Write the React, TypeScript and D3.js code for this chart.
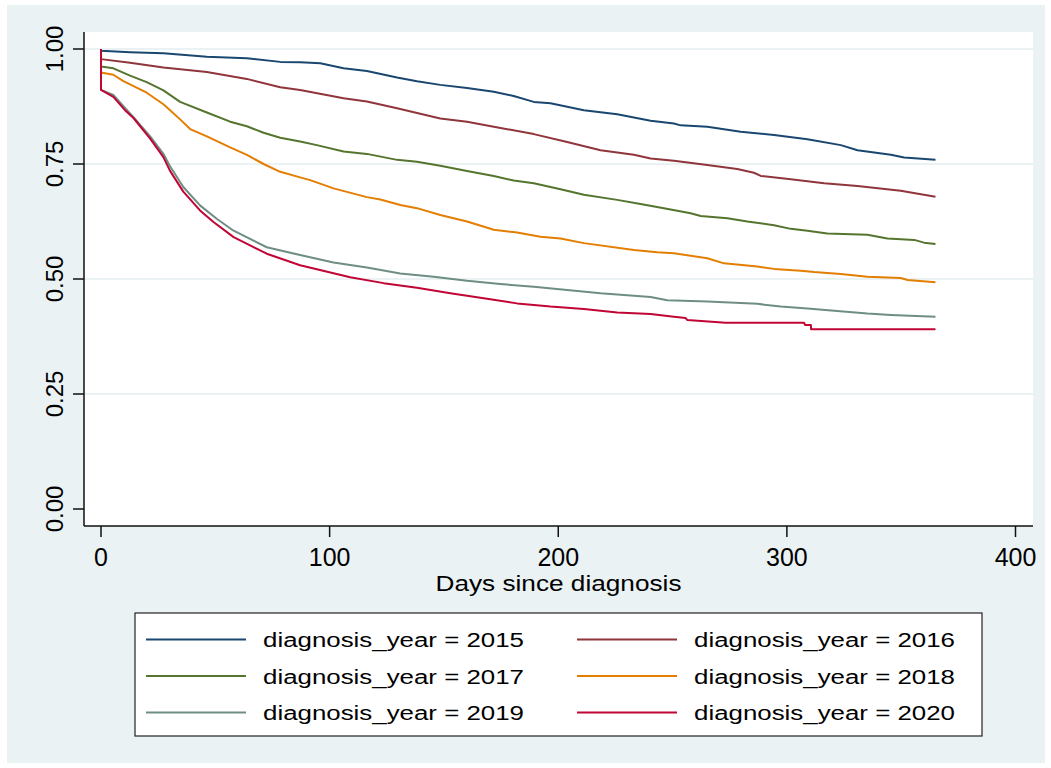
import React from "react";
import * as d3 from "d3";

type Pt = [number, number];

const years = ["2015", "2016", "2017", "2018", "2019", "2020"];
const colors = ["#1A476F", "#90353B", "#55752F", "#E37E00", "#6E8E84", "#C10534"];

const s2015: Pt[] = [[0,1],[0,0.996],[12.7,0.993],[27.3,0.991],[46.3,0.983],[63.8,0.98],[78.4,0.972],[87.1,0.971],[95.9,0.969],[106.1,0.958],[116.3,0.952],[129.5,0.938],[138.2,0.93],[148.4,0.922],[160.1,0.915],[171.8,0.907],[180.5,0.898],[189.3,0.885],[196.6,0.882],[211.2,0.867],[225.8,0.858],[240.4,0.844],[250.6,0.838],[253.5,0.834],[265.2,0.831],[279.8,0.82],[294.4,0.813],[309,0.804],[323.6,0.791],[330.9,0.78],[345.5,0.77],[351.3,0.764],[365,0.759]];
const s2016: Pt[] = [[0,1],[0,0.978],[12.7,0.97],[27.3,0.96],[46.3,0.95],[63.8,0.935],[78.4,0.917],[87.1,0.911],[106.1,0.893],[116.3,0.886],[129.5,0.871],[148.4,0.849],[160.1,0.842],[171.8,0.831],[189.3,0.815],[203.9,0.798],[218.5,0.78],[233.1,0.77],[240.4,0.762],[250.6,0.757],[265.2,0.748],[278.3,0.739],[285.6,0.731],[288.6,0.724],[301.7,0.717],[316.3,0.708],[330.9,0.702],[349.8,0.692],[365,0.679]];
const s2017: Pt[] = [[0,1],[0,0.962],[5.4,0.958],[12.7,0.942],[20,0.928],[27.3,0.91],[34.6,0.885],[46.3,0.862],[56.5,0.842],[63.8,0.832],[71.1,0.818],[78.4,0.807],[87.1,0.799],[94.4,0.791],[106.1,0.777],[116.3,0.772],[129.5,0.759],[138.2,0.755],[148.4,0.746],[160.1,0.735],[171.8,0.724],[180.5,0.714],[189.3,0.708],[201,0.695],[211.2,0.683],[225.8,0.672],[236,0.663],[246.2,0.654],[257.9,0.643],[262.3,0.637],[274,0.632],[282.7,0.625],[294.4,0.617],[301.7,0.609],[309,0.605],[317.7,0.599],[335.2,0.596],[344,0.588],[355.7,0.585],[360,0.579],[365,0.576]];
const s2018: Pt[] = [[0,1],[0,0.949],[5.4,0.944],[9.8,0.93],[20,0.905],[27.3,0.88],[34.6,0.847],[39,0.826],[46.3,0.81],[56.5,0.786],[63.8,0.77],[71.1,0.75],[78.4,0.733],[87.1,0.721],[91.5,0.715],[101.7,0.697],[116.3,0.678],[122.2,0.673],[130.9,0.661],[138.2,0.654],[148.4,0.639],[160.1,0.625],[171.8,0.607],[182,0.601],[192.2,0.592],[201,0.588],[211.2,0.578],[233.1,0.563],[243.3,0.558],[250.6,0.556],[265.2,0.545],[272.5,0.534],[287.1,0.527],[294.4,0.522],[306.1,0.518],[311.9,0.515],[323.6,0.511],[335.2,0.505],[349.8,0.502],[352.8,0.498],[365,0.493]];
const s2019: Pt[] = [[0,1],[0,0.911],[5.4,0.9],[10.5,0.872],[14.2,0.852],[21.5,0.81],[27.3,0.772],[30.2,0.745],[36,0.7],[43.3,0.66],[50.6,0.631],[58,0.605],[72.5,0.569],[87.1,0.552],[101.7,0.536],[116.3,0.525],[130.9,0.512],[145.5,0.505],[160.1,0.496],[174.7,0.489],[189.3,0.483],[203.9,0.476],[218.5,0.469],[240.4,0.461],[247.7,0.454],[265.2,0.451],[287.1,0.446],[297.3,0.44],[309,0.436],[320.7,0.431],[335.2,0.425],[345.5,0.422],[365,0.418]];
const s2020: Pt[] = [[0,1],[0,0.911],[5.4,0.896],[10.5,0.867],[14.2,0.85],[21.5,0.805],[27.3,0.765],[30.2,0.735],[36,0.69],[43.3,0.649],[49.2,0.624],[58,0.591],[65.2,0.573],[72.5,0.555],[87.1,0.53],[94.4,0.521],[109,0.504],[123.6,0.491],[138.2,0.481],[152.8,0.469],[167.4,0.458],[182,0.447],[196.6,0.44],[211.2,0.435],[225.8,0.427],[240.4,0.424],[250.6,0.418],[255.7,0.415],[256.4,0.411],[273.2,0.405],[307.5,0.405],[308,0.4],[310.5,0.4],[310.6,0.391],[365,0.391]];

const series: Pt[][] = [s2015, s2016, s2017, s2018, s2019, s2020];
const xTicks = [0, 100, 200, 300, 400];
const yTicks = [0, 0.25, 0.5, 0.75, 1];
const gridTicks = [0.25, 0.5, 0.75, 1];
const xTitle = "Days since diagnosis";
const legendPrefix = "diagnosis_year = ";

const W = 1051, H = 768;
const plot = { left: 84, right: 1033, top: 32, bottom: 526 };
const BG = "#EAF2F3";

export default function App() {
  const x = d3.scaleLinear().domain([0, 400]).range([101, 1015.5]);
  const y = d3.scaleLinear().domain([0, 1]).range([509, 49]);
  const line = d3.line<Pt>().x((d) => x(d[0])).y((d) => y(d[1]));

  const legendRows = [639.5, 676, 712.5];
  const legendCols = [146, 577];

  return (
    <svg width={W} height={H} style={{ position: "absolute", left: 0, top: 0, fontFamily: "'Liberation Sans', Arial, sans-serif" }}>
      <rect x={0} y={0} width={W} height={H} fill="#fff" />
      <rect x={7} y={5} width={1038} height={758} fill={BG} />
      <rect x={plot.left} y={plot.top} width={plot.right - plot.left} height={plot.bottom - plot.top} fill="#fff" />
      {gridTicks.map((t) => (
        <line key={t} x1={plot.left} x2={plot.right} y1={y(t)} y2={y(t)} stroke={BG} strokeWidth={2} />
      ))}
      {series.map((s, i) => (
        <path key={years[i]} d={line(s) || ""} fill="none" stroke={colors[i]} strokeWidth={2} strokeLinejoin="round" />
      ))}
      {/* axes */}
      <line x1={plot.left} x2={plot.left} y1={plot.top} y2={plot.bottom} stroke="#111" strokeWidth={1.5} />
      <line x1={plot.left} x2={plot.right} y1={plot.bottom} y2={plot.bottom} stroke="#111" strokeWidth={1.5} />
      {yTicks.map((t) => (
        <g key={t}>
          <line x1={73} x2={plot.left} y1={y(t)} y2={y(t)} stroke="#111" strokeWidth={1.5} />
          <text transform={`translate(63,${y(t)}) rotate(-90)`} textAnchor="middle" fontSize={24} fill="#000">
            {t.toFixed(2)}
          </text>
        </g>
      ))}
      {xTicks.map((t) => (
        <g key={t}>
          <line x1={x(t)} x2={x(t)} y1={plot.bottom} y2={537} stroke="#111" strokeWidth={1.5} />
          <text x={x(t)} y={566} textAnchor="middle" fontSize={25} fill="#000">{t}</text>
        </g>
      ))}
      <text x={(plot.left + plot.right) / 2} y={591} textAnchor="middle" fontSize={22} textLength={246} lengthAdjust="spacingAndGlyphs" fill="#000">
        {xTitle}
      </text>
      {/* legend */}
      <rect x={135} y={613} width={847} height={123} fill="#fff" stroke="#222" strokeWidth={1.2} />
      {years.map((yr, i) => {
        const col = i % 2, row = Math.floor(i / 2);
        const lx = legendCols[col], ly = legendRows[row];
        return (
          <g key={yr}>
            <line x1={lx} x2={lx + 100} y1={ly} y2={ly} stroke={colors[i]} strokeWidth={2} />
            <text x={lx + 117} y={ly + 7.5} fontSize={20} textLength={261} lengthAdjust="spacingAndGlyphs" fill="#000">
              {legendPrefix + yr}
            </text>
          </g>
        );
      })}
    </svg>
  );
}
